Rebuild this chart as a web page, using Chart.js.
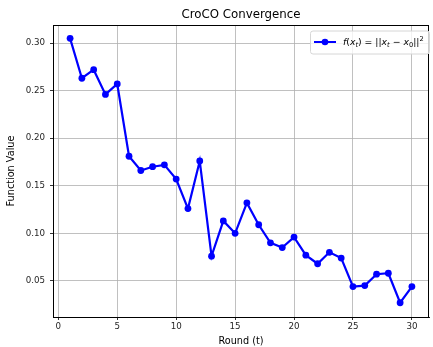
<!DOCTYPE html>
<html>
<head>
<meta charset="utf-8">
<script src="https://cdn.jsdelivr.net/npm/chart.js@4.4.1/dist/chart.umd.min.js"></script>
<style>
  html, body { margin: 0; padding: 0; background: #fff; }
  canvas { display: block; }
</style>
</head>
<body>
<canvas id="grafica" width="433" height="347"></canvas>
<script>
// datos
const rounds = [1, 2, 3, 4, 5, 6, 7, 8, 9, 10, 11, 12, 13, 14, 15,
                16, 17, 18, 19, 20, 21, 22, 23, 24, 25, 26, 27, 28, 29, 30];
const values = [0.305, 0.263, 0.272, 0.246, 0.257, 0.181, 0.166, 0.170, 0.172, 0.157,
                0.126, 0.176, 0.076, 0.113, 0.100, 0.132, 0.109, 0.090, 0.085, 0.096,
                0.077, 0.068, 0.080, 0.074, 0.044, 0.045, 0.057, 0.058, 0.027, 0.044];
const xTicks = [0, 5, 10, 15, 20, 25, 30];
const yTicks = [0.05, 0.10, 0.15, 0.20, 0.25, 0.30];

const chartTitle = 'CroCO Convergence';
const FONT = '"DejaVu Sans", sans-serif';

// marco, titulo y leyenda al estilo matplotlib
const extras = {
    id: 'extras',
    afterDraw(chart) {
        const ctx = chart.ctx;
        const a = chart.chartArea;
        ctx.save();
        ctx.strokeStyle = '#000';
        ctx.lineWidth = 1;
        ctx.strokeRect(Math.round(a.left) + 0.5, Math.round(a.top) + 0.5,
                       Math.round(a.right - a.left) - 1, Math.round(a.bottom - a.top));

        // titulo
        ctx.fillStyle = '#000';
        ctx.font = '11.8px ' + FONT;
        ctx.textAlign = 'center';
        ctx.textBaseline = 'middle';
        ctx.fillText(chartTitle, (a.left + a.right) / 2, 15);

        // leyenda
        const bx = 310, by = 30.5, bw = 119, bh = 23;
        ctx.beginPath();
        ctx.roundRect(bx + 0.5, by + 0.5, bw, bh, 2.5);
        ctx.fillStyle = 'rgba(255,255,255,0.8)';
        ctx.fill();
        ctx.strokeStyle = '#d6d6d6';
        ctx.stroke();

        const ly = 42;
        ctx.strokeStyle = '#0000ff';
        ctx.lineWidth = 2;
        ctx.beginPath();
        ctx.moveTo(314, ly);
        ctx.lineTo(336, ly);
        ctx.stroke();
        ctx.fillStyle = '#0000ff';
        ctx.beginPath();
        ctx.arc(325, ly, 3.3, 0, Math.PI * 2);
        ctx.fill();

        const parts = [
            { t: 'f', it: true }, { t: '(' }, { t: 'x', it: true }, { t: 't', it: true, sub: true },
            { t: ')' }, { t: ' = ' }, { t: '||' }, { t: 'x', it: true }, { t: 't', it: true, sub: true },
            { t: ' \u2212 ' }, { t: 'x', it: true }, { t: '0', sub: true }, { t: '||' }, { t: '2', sup: true }
        ];
        let px = 343;
        ctx.fillStyle = '#000';
        ctx.textAlign = 'left';
        ctx.textBaseline = 'alphabetic';
        parts.forEach(p => {
            const size = (p.sub || p.sup) ? 6.7 : 9.3;
            ctx.font = (p.it ? 'italic ' : '') + size + 'px ' + FONT;
            let y = ly + 3.3;
            if (p.sub) y += 2;
            if (p.sup) y -= 4.2;
            ctx.fillText(p.t, px, y);
            px += ctx.measureText(p.t).width;
        });
        ctx.restore();
    }
};

const ctx = document.getElementById('grafica').getContext('2d');

new Chart(ctx, {
    type: 'line',
    data: {
        datasets: [{
            label: 'f(x_t) = ||x_t - x_0||^2',
            data: rounds.map((r, i) => ({ x: r, y: values[i] })),
            borderColor: '#0000ff',
            backgroundColor: '#0000ff',
            borderWidth: 2.2,
            pointRadius: 3.4,
            pointBorderWidth: 0,
            tension: 0
        }]
    },
    options: {
        responsive: false,
        animation: false,
        devicePixelRatio: 1,
        layout: { padding: { top: 25, right: 1, left: 0, bottom: 0 } },
        plugins: {
            legend: { display: false },
            title: { display: false },
            tooltip: { enabled: false }
        },
        scales: {
            x: {
                type: 'linear',
                min: -0.45,
                max: 31.45,
                afterBuildTicks: s => { s.ticks = xTicks.map(v => ({ value: v })); },
                afterFit: s => { s.height = 30; },
                ticks: {
                    font: { family: FONT, size: 8.7 },
                    color: '#262626',
                    padding: 2,
                    maxRotation: 0,
                    callback: v => v
                },
                grid: { color: '#b0b0b0', lineWidth: 0.8, tickColor: '#000', tickLength: 3 },
                border: { display: true, color: '#000', width: 1 },
                title: {
                    display: true,
                    text: 'Round (t)',
                    color: '#000',
                    font: { family: FONT, size: 9.7 },
                    padding: { top: 0, bottom: 0 }
                }
            },
            y: {
                min: 0.012,
                max: 0.319,
                afterBuildTicks: s => { s.ticks = yTicks.map(v => ({ value: v })); },
                afterFit: s => { s.width = 53; },
                ticks: {
                    font: { family: FONT, size: 8.7 },
                    color: '#262626',
                    padding: 5,
                    callback: v => v.toFixed(2)
                },
                grid: { color: '#b0b0b0', lineWidth: 0.8, tickColor: '#000', tickLength: 3 },
                border: { display: true, color: '#000', width: 1 },
                title: {
                    display: true,
                    text: 'Function Value',
                    color: '#000',
                    font: { family: FONT, size: 9.7 },
                    padding: { top: 6, bottom: 0 }
                }
            }
        }
    },
    plugins: [extras]
});
</script>
</body>
</html>
